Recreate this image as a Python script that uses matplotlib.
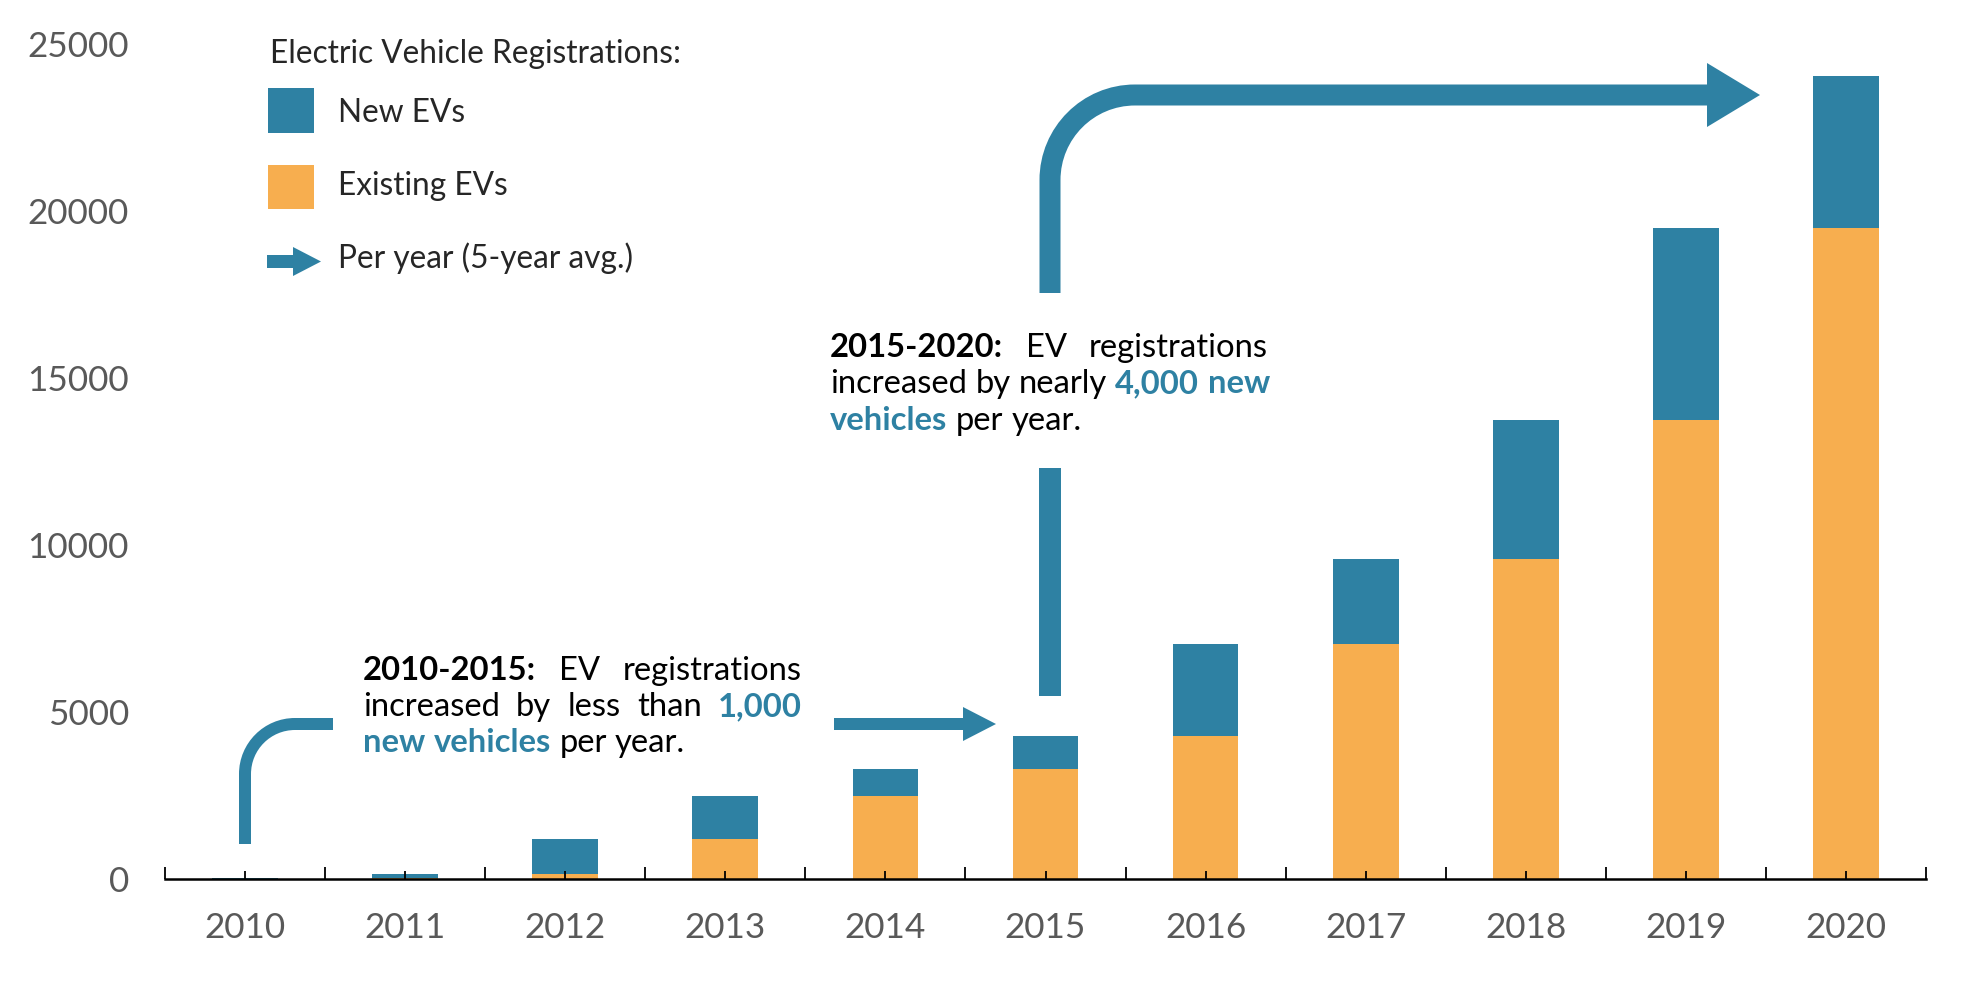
import matplotlib
matplotlib.use('Agg')
import matplotlib.pyplot as plt
from matplotlib.patches import Rectangle, PathPatch, Polygon
from matplotlib.path import Path
import numpy as np

plt.rcParams['font.family'] = ['Lato', 'DejaVu Sans']

# ---------------- data ----------------
years = ['2010', '2011', '2012', '2013', '2014', '2015',
         '2016', '2017', '2018', '2019', '2020']
existing_evs = [0, 40, 150, 1200, 2500, 3300, 4280, 7050, 9580, 13740, 19480]
new_evs = [40, 110, 1050, 1300, 800, 980, 2770, 2530, 4160, 5740, 4570]
y_ticks = [0, 5000, 10000, 15000, 20000, 25000]

legend_title = 'Electric Vehicle Registrations:'
legend_labels = ['New EVs', 'Existing EVs', 'Per year (5-year avg.)']

BLUE = '#2E81A3'
ORANGE = '#F7AE4F'
GREY = '#595959'

W, H = 1962, 982
fig = plt.figure(figsize=(W / 100, H / 100), dpi=100)
renderer = fig.canvas.get_renderer()


def fx(px):
    return px / W


def fy(py):
    return 1 - py / H


def text_width(s, size, weight='normal'):
    t = fig.text(0, 0, s, fontsize=size, fontweight=weight)
    w = t.get_window_extent(renderer).width
    t.remove()
    return w


def fit_size(s, target, weight='normal'):
    return 20 * target / text_width(s, 20, weight)


# ---------------- axes & bars ----------------
ax = fig.add_axes([fx(165), fy(879), (1926 - 165) / W, (879 - 44) / H])
x = np.arange(len(years))
bw = 0.41
ax.bar(x, existing_evs, width=bw, color=ORANGE, linewidth=0)
ax.bar(x, new_evs, bottom=existing_evs, width=bw, color=BLUE, linewidth=0)
ax.set_xlim(-0.5, len(years) - 0.5)
ax.set_ylim(0, 25000)
for s in ['top', 'right', 'left']:
    ax.spines[s].set_visible(False)
ax.spines['bottom'].set_linewidth(1.8)

tick_fs = fit_size('25000', 102)
ax.set_yticks(y_ticks)
ax.set_yticklabels([str(v) for v in y_ticks])
ax.tick_params(axis='y', length=0, pad=26, labelsize=tick_fs, labelcolor=GREY)
ax.set_xticks(x)
ax.set_xticklabels(years)
ax.set_xticks(np.arange(-0.5, len(years)), minor=True)
ax.tick_params(axis='x', which='major', direction='in', length=6, width=1.3,
               pad=24, labelsize=tick_fs, labelcolor=GREY)
ax.tick_params(axis='x', which='minor', direction='in', length=8.5, width=1.3)

# ---------------- legend ----------------
leg_fs = fit_size(legend_title, 412)
fig.text(fx(270), fy(63), legend_title, fontsize=leg_fs, color='#262626',
         va='baseline', ha='left')
fig.patches.append(Rectangle((fx(268), fy(133)), 46 / W, 45 / H,
                             transform=fig.transFigure, color=BLUE, lw=0))
fig.patches.append(Rectangle((fx(268), fy(209)), 46 / W, 44 / H,
                             transform=fig.transFigure, color=ORANGE, lw=0))
arrow_pts = [(267, 255), (293, 255), (293, 247), (321, 261.5),
             (293, 276), (293, 268), (267, 268)]
fig.patches.append(Polygon([(fx(a), fy(b)) for a, b in arrow_pts], closed=True,
                           transform=fig.transFigure, color=BLUE, lw=0))
for lab, yb in zip(legend_labels, [122, 195, 268]):
    fig.text(fx(338), fy(yb), lab, fontsize=leg_fs, color='#262626',
             va='baseline', ha='left')


# ---------------- arrows ----------------
def stroke(points, codes, width_px):
    p = Path([(fx(a), fy(b)) for a, b in points], codes)
    fig.patches.append(PathPatch(p, transform=fig.transFigure, fill=False,
                                 edgecolor=BLUE, lw=width_px * 0.72,
                                 capstyle='butt', joinstyle='miter'))


def head(pts):
    fig.patches.append(Polygon([(fx(a), fy(b)) for a, b in pts], closed=True,
                               transform=fig.transFigure, color=BLUE, lw=0))


k = 0.5523
# arrow 1 (2010-2015)
r1 = 50
y1 = 724
x1 = 245
stroke([(x1, 844), (x1, y1 + r1), (x1, y1 + r1 - k * r1), (x1 + r1 - k * r1, y1),
        (x1 + r1, y1), (333, y1)],
       [Path.MOVETO, Path.LINETO, Path.CURVE4, Path.CURVE4, Path.CURVE4, Path.LINETO], 12)
stroke([(834, y1), (964, y1)], [Path.MOVETO, Path.LINETO], 12)
head([(963, 707), (996, y1), (963, 741)])

# arrow 2 (2015-2020)
r2 = 85
y2 = 95
x2 = 1050
stroke([(x2, 696), (x2, 468)], [Path.MOVETO, Path.LINETO], 22)
stroke([(x2, 293), (x2, y2 + r2), (x2, y2 + r2 - k * r2), (x2 + r2 - k * r2, y2),
        (x2 + r2, y2), (1708, y2)],
       [Path.MOVETO, Path.LINETO, Path.CURVE4, Path.CURVE4, Path.CURVE4, Path.LINETO], 21)
head([(1707, 63), (1760, y2), (1707, 127)])

# ---------------- annotation texts ----------------
text1 = [
    [('2010-2015:', 'bold', 'black'), ('EV registrations', 'normal', 'black')],
    [('increased by less than', 'normal', 'black'), ('1,000', 'bold', BLUE)],
    [('new vehicles', 'bold', BLUE), ('per year.', 'normal', 'black')],
]
text2 = [
    [('2015-2020:', 'bold', 'black'), ('EV registrations', 'normal', 'black')],
    [('increased by nearly', 'normal', 'black'), ('4,000 new', 'bold', BLUE)],
    [('vehicles', 'bold', BLUE), ('per year.', 'normal', 'black')],
]


def natural_width(line, size):
    s = 0
    n = 0
    for txt, w, c in line:
        for word in txt.split():
            s += text_width(word, size, w)
            n += 1
    space = text_width('a a', size) - text_width('aa', size)
    return s + space * (n - 1)


def draw_block(lines, x0, x1, baselines, size):
    space = text_width('a a', size) - text_width('aa', size)
    for i, (line, yb) in enumerate(zip(lines, baselines)):
        words = []
        for txt, w, c in line:
            for word in txt.split():
                words.append((word, w, c))
        objs = [fig.text(0, 0, wd, fontsize=size, fontweight=w, color=c,
                         va='baseline', ha='left') for wd, w, c in words]
        widths = [o.get_window_extent(renderer).width for o in objs]
        justify = i < len(lines) - 1
        if justify and len(objs) > 1:
            gap = max(space, (x1 - x0 - sum(widths)) / (len(objs) - 1))
        else:
            gap = space
        xc = x0
        for o, wdt in zip(objs, widths):
            o.set_position((fx(xc), fy(yb)))
            xc += wdt + gap


fs1 = 20 * 319 / natural_width(text1[2], 20)
fs2 = 20 * 255 / natural_width(text2[2], 20)
fs = (fs1 + fs2) / 2
draw_block(text1, 363, 802, [680, 716, 752], fs)
draw_block(text2, 830, 1268, [357, 393, 430], fs)

fig.savefig('out.png', dpi=100, facecolor='white')
